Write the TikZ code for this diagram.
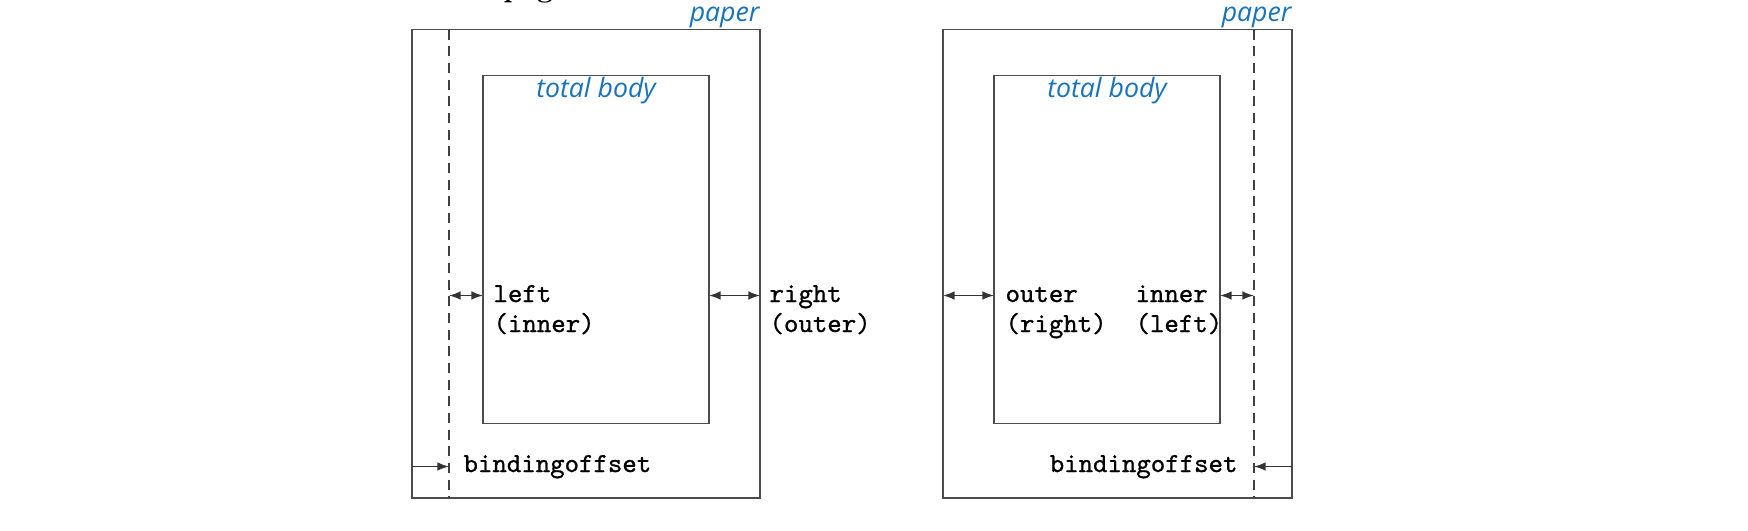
\documentclass[tikz,border=0pt]{standalone}
\usepackage{fontspec}
\newfontfamily\labelsans{Open Sans}
\newfontfamily\labeltt{Latin Modern Mono}[FakeBold=0.9]
\usetikzlibrary{arrows.meta}
\definecolor{lblue}{RGB}{25,115,185}
\begin{document}
\begin{tikzpicture}[x=0.36pt,y=-0.36pt,
  frame/.style={draw=black!70, line width=0.55pt},
  dashline/.style={draw=black!75, line width=0.55pt, dash pattern=on 3.6pt off 2.4pt},
  dimarrow/.style={draw=black!80, line width=0.5pt, {Latex[length=4.2pt,width=3.1pt]}-{Latex[length=4.2pt,width=3.1pt]}},
  bindarrow/.style={draw=black!80, line width=0.5pt, -{Latex[length=4.2pt,width=3.1pt]}},
  sanslabel/.style={font=\labelsans\itshape\fontsize{9.6}{11}\selectfont, text=lblue, inner sep=0pt},
  ttlabel/.style={font=\labeltt\fontsize{9.9}{12}\selectfont, inner sep=0pt, anchor=base west}]
\useasboundingbox (0,0) rectangle (1748,530);

% cut-off text from the line above
\node[font=\bfseries\fontsize{10}{12}\selectfont, inner sep=0pt, anchor=base west] (frag) at (503,-3) {page};

% ---------- left (odd) page ----------
\coordinate (LPnw) at (412,29.5);
\coordinate (LPse) at (760,498);
\coordinate (LBnw) at (483,75.5);
\coordinate (LBse) at (709,423.5);
\coordinate (LDt) at (449,29.5);
\coordinate (LDb) at (449,498);
\draw[frame] (LPnw) rectangle (LPse);
\draw[frame] (LBnw) rectangle (LBse);
\draw[dashline] (LDt) -- (LDb);
\node[sanslabel, anchor=south east] (Lpaper) at (760,28.5) {paper};
\node[sanslabel, anchor=north] (Lbody) at (596,76.5) {total body};

\coordinate (La1) at (449,295.5);
\coordinate (La2) at (483,295.5);
\coordinate (La3) at (709,295.5);
\coordinate (La4) at (760,295.5);
\draw[dimarrow] (La1) -- (La2);
\draw[dimarrow] (La3) -- (La4);
\coordinate (Lb1) at (412,466.5);
\coordinate (Lb2) at (449,466.5);
\draw[bindarrow] (Lb1) -- (Lb2);

\node[ttlabel] (Lleft) at (493,302) {left};
\node[ttlabel] (Linner) at (493,332) {(inner)};
\node[ttlabel] (Lright) at (769,302) {right};
\node[ttlabel] (Louter) at (769,332) {(outer)};
\node[ttlabel] (Lbind) at (463,472) {bindingoffset};

% ---------- right (even) page ----------
\coordinate (RPnw) at (943,29.5);
\coordinate (RPse) at (1292,498);
\coordinate (RBnw) at (994,75.5);
\coordinate (RBse) at (1220,423.5);
\coordinate (RDt) at (1254,29.5);
\coordinate (RDb) at (1254,498);
\draw[frame] (RPnw) rectangle (RPse);
\draw[frame] (RBnw) rectangle (RBse);
\draw[dashline] (RDt) -- (RDb);
\node[sanslabel, anchor=south east] (Rpaper) at (1292,28.5) {paper};
\node[sanslabel, anchor=north] (Rbody) at (1107,76.5) {total body};

\coordinate (Ra1) at (943,295.5);
\coordinate (Ra2) at (994,295.5);
\coordinate (Ra3) at (1220,295.5);
\coordinate (Ra4) at (1254,295.5);
\draw[dimarrow] (Ra1) -- (Ra2);
\draw[dimarrow] (Ra3) -- (Ra4);
\coordinate (Rb1) at (1292,466.5);
\coordinate (Rb2) at (1254,466.5);
\draw[bindarrow] (Rb1) -- (Rb2);

\node[ttlabel] (Router) at (1005,302) {outer};
\node[ttlabel] (Rright) at (1005,332) {(right)};
\node[ttlabel] (Rinner) at (1135,302) {inner};
\node[ttlabel] (Rleft) at (1135,332) {(left)};
\node[ttlabel, anchor=base east] (Rbind) at (1238,472) {bindingoffset};
\end{tikzpicture}
\end{document}
